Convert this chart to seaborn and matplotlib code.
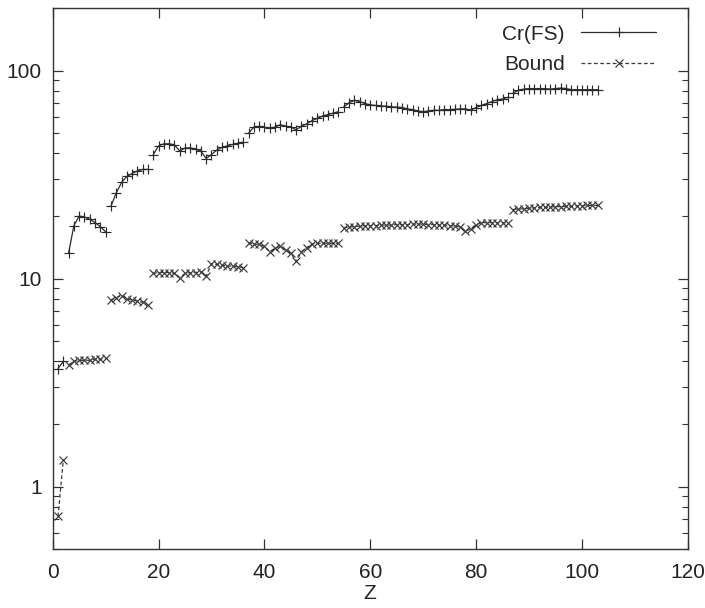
import numpy as np
import pandas as pd
import matplotlib
matplotlib.use("Agg")
import matplotlib.pyplot as plt
import seaborn as sns
from matplotlib.ticker import LogLocator, NullFormatter, FixedLocator

Z = list(range(1, 104))

# row (period) of the periodic table for each Z; the lines break between rows
period = [1] * 2 + [2] * 8 + [3] * 8 + [4] * 18 + [5] * 18 + [6] * 32 + [7] * 17

cr_fs = [
    3.7, 4.0, 13.3, 18.0, 20.0, 19.8, 19.3, 18.6, 17.8, 16.8,
    22.3, 25.8, 29.0, 31.0, 32.0, 33.0, 33.5, 33.5, 39.5, 43.5,
    44.5, 44.5, 44.0, 41.0, 42.5, 42.5, 42.0, 41.0, 37.8, 39.5,
    41.5, 42.8, 43.5, 44.2, 44.8, 45.3, 50.0, 53.5, 54.0, 53.5,
    53.0, 53.5, 55.0, 54.0, 53.5, 52.0, 54.0, 55.5, 57.5, 59.0,
    60.5, 61.5, 62.5, 63.5, 67.0, 70.0, 72.0, 71.0, 69.5, 68.5,
    68.0, 67.5, 67.5, 67.0, 66.8, 66.5, 65.5, 65.0, 64.0, 63.5,
    64.0, 64.5, 64.5, 65.0, 65.0, 65.2, 65.5, 65.5, 64.5, 66.5,
    68.0, 69.5, 71.0, 72.5, 73.0, 74.5, 78.0, 80.5, 81.5, 82.0,
    82.0, 82.0, 82.0, 81.5, 82.0, 82.5, 82.0, 81.0, 81.0, 81.0,
    81.0, 81.0, 81.0,
]

bound = [
    0.72, 1.35, 3.85, 4.0, 4.05, 4.05, 4.05, 4.1, 4.1, 4.15,
    7.9, 8.1, 8.3, 8.0, 7.9, 7.8, 7.7, 7.5, 10.6, 10.7,
    10.7, 10.7, 10.6, 10.1, 10.6, 10.7, 10.7, 10.8, 10.3, 11.8,
    11.7, 11.6, 11.5, 11.5, 11.4, 11.3, 14.9, 14.7, 14.6, 14.3,
    13.5, 14.0, 14.3, 13.7, 13.3, 12.1, 13.5, 14.1, 14.7, 14.8,
    14.8, 14.8, 14.8, 14.8, 17.6, 17.7, 17.8, 17.9, 18.0, 18.0,
    18.0, 18.1, 18.1, 18.1, 18.2, 18.2, 18.2, 18.3, 18.3, 18.3,
    18.2, 18.2, 18.1, 18.1, 18.0, 17.9, 17.8, 16.9, 17.4, 18.2,
    18.6, 18.6, 18.6, 18.6, 18.6, 18.5, 21.5, 21.6, 21.7, 21.8,
    21.9, 22.0, 22.0, 22.1, 22.2, 22.2, 22.3, 22.3, 22.4, 22.4,
    22.5, 22.5, 22.5,
]

x_ticks = [0, 20, 40, 60, 80, 100, 120]
y_ticks = [1, 10, 100]
y_tick_labels = ["1", "10", "100"]

sns.set_style("ticks")
plt.rcParams["font.family"] = ["Liberation Sans", "DejaVu Sans"]

fig = plt.figure(figsize=(7.05, 6.08), dpi=100)
ax = fig.add_axes([0.0748, 0.0965, 0.9007, 0.8903])

df = pd.DataFrame({"Z": Z, "period": period, "Cr(FS)": cr_fs, "Bound": bound})

c1 = "#2b2b2b"
c2 = "#3a3a3a"
sns.lineplot(data=df, x="Z", y="Cr(FS)", units="period", estimator=None,
             ax=ax, color=c1, linewidth=0.9, marker="+", markersize=7.5,
             markeredgewidth=0.85, markeredgecolor=c1, label="Cr(FS)")
sns.lineplot(data=df, x="Z", y="Bound", units="period", estimator=None,
             ax=ax, color=c2, linewidth=0.9, linestyle=(0, (3, 2)),
             marker="x", markersize=6, markeredgewidth=0.85,
             markeredgecolor=c2, label="Bound")

ax.set_yscale("log")
ax.set_xlim(0, 120)
ax.set_ylim(0.5, 200)
ax.set_xticks(x_ticks)
ax.set_xticklabels([str(t) for t in x_ticks])
ax.yaxis.set_major_locator(FixedLocator(y_ticks))
ax.set_yticklabels(y_tick_labels)
ax.yaxis.set_minor_locator(LogLocator(base=10, subs=np.arange(2, 10)))
ax.yaxis.set_minor_formatter(NullFormatter())

ax.tick_params(axis="both", which="major", direction="in", length=7,
               width=0.9, top=True, right=True, labelsize=15, pad=8,
               colors="#333333", labelcolor="#222222")
ax.tick_params(axis="x", which="major", pad=10)
ax.tick_params(axis="y", which="minor", direction="in", length=4,
               width=0.8, left=True, right=True, colors="#333333")
for s in ax.spines.values():
    s.set_linewidth(1.0)
    s.set_color("#333333")

ax.set_xlabel("Z", fontsize=15, labelpad=1, color="#222222")
ax.set_ylabel("")

handles, labels = ax.get_legend_handles_labels()
seen = {}
for h, l in zip(handles, labels):
    if l not in seen:
        seen[l] = h
ax.legend(list(seen.values()), list(seen.keys()), loc="upper right",
          frameon=False, markerfirst=False, fontsize=15, handlelength=3.6,
          handletextpad=0.8, labelspacing=0.55, borderaxespad=0.4,
          bbox_to_anchor=(0.977, 1.0))

fig.savefig("out.png", dpi=100)
